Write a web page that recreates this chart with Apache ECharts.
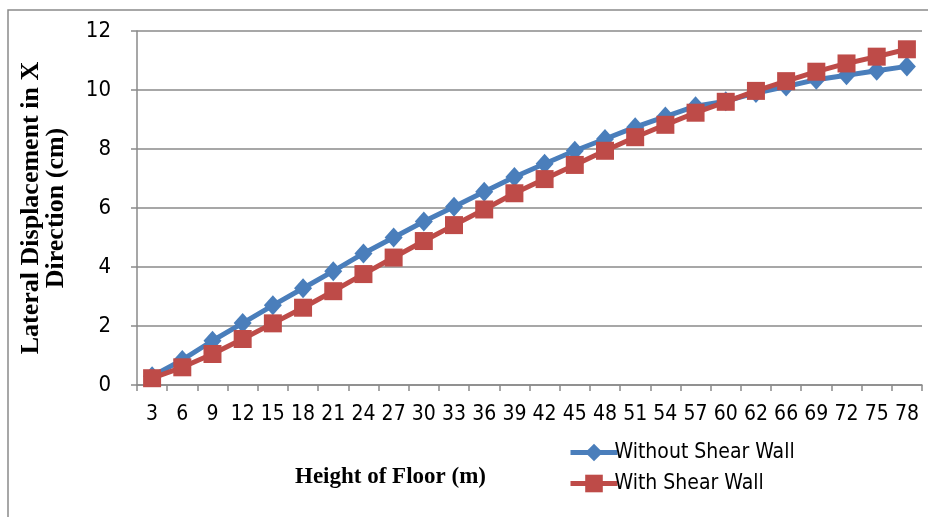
<!DOCTYPE html>
<html><head><meta charset="utf-8">
<script src="https://cdn.jsdelivr.net/npm/echarts@6/dist/echarts.min.js"></script>
<style>html,body{margin:0;padding:0;background:#fff}#c{width:928px;height:517px}</style>
</head><body><div id="c"></div>
<script>
const categories = ['3','6','9','12','15','18','21','24','27','30','33','36','39','42','45','48','51','54','57','60','62','66','69','72','75','78'];
const withoutShearWall = [0.3,0.85,1.5,2.1,2.7,3.28,3.86,4.46,5.0,5.54,6.04,6.55,7.05,7.5,7.94,8.34,8.74,9.1,9.45,9.62,9.9,10.12,10.35,10.5,10.65,10.8];
const withShearWall = [0.23,0.6,1.05,1.56,2.09,2.62,3.18,3.76,4.32,4.88,5.42,5.95,6.5,6.98,7.46,7.94,8.4,8.82,9.23,9.6,9.97,10.3,10.62,10.9,11.13,11.38];
const yTicks = [0,2,4,6,8,10,12];

const labelFont = '"Liberation Sans Narrow","DejaVu Sans Condensed","Liberation Sans",sans-serif';
const titleFont = '"Liberation Serif","DejaVu Serif",serif';
const chart = echarts.init(document.getElementById('c'));
chart.setOption({
  animation: false,
  backgroundColor: '#fff',
  graphic: [{type:'rect', shape:{x:8,y:10,width:940,height:530}, style:{fill:'none', stroke:'#8a8a8a', lineWidth:1.5}, z:-1}],
  grid: {left:137, top:31, right:6, bottom:132},
  legend: {
    orient:'vertical', left:563, top:437, itemWidth:47, itemHeight:22, itemGap:10,
    lineStyle:{width:5},
    textStyle:{fontFamily:labelFont, fontSize:21, color:'#000', padding:[0,0,0,-8]},
    data:['Without Shear Wall','With Shear Wall']
  },
  xAxis: {
    type:'category', data:categories, boundaryGap:true,
    name:'Height of Floor (m)', nameLocation:'middle', nameGap:81,
    nameTextStyle:{fontFamily:titleFont, fontWeight:'bold', fontSize:23, color:'#000', padding:[0,0,0,-278]},
    axisLine:{lineStyle:{color:'#8a8a8a', width:1.5}},
    axisTick:{show:true, alignWithLabel:false, length:6, lineStyle:{color:'#8a8a8a', width:1.5}},
    axisLabel:{fontFamily:labelFont, fontSize:21, color:'#000', margin:19, interval:0}
  },
  yAxis: {
    type:'value', min:0, max:12, interval:2,
    name:'Lateral Displacement in X\nDirection (cm)', nameLocation:'middle', nameGap:68, nameRotate:90,
    nameTextStyle:{fontFamily:titleFont, fontWeight:'bold', fontSize:26, color:'#000', lineHeight:25, align:'center'},
    axisLine:{show:true, lineStyle:{color:'#8a8a8a', width:1.5}},
    axisTick:{show:true, length:6, lineStyle:{color:'#8a8a8a', width:1.5}},
    splitLine:{lineStyle:{color:'#8a8a8a', width:1.5}},
    axisLabel:{fontFamily:labelFont, fontSize:22, color:'#000', margin:26}
  },
  series: [
    {name:'Without Shear Wall', type:'line', data:withoutShearWall, symbol:'diamond', symbolSize:[18,20],
      itemStyle:{color:'#4A7EBB'}, lineStyle:{color:'#4A7EBB', width:5}},
    {name:'With Shear Wall', type:'line', data:withShearWall, symbol:'rect', symbolSize:18,
      itemStyle:{color:'#BE4B48'}, lineStyle:{color:'#BE4B48', width:5}}
  ]
});
</script></body></html>
